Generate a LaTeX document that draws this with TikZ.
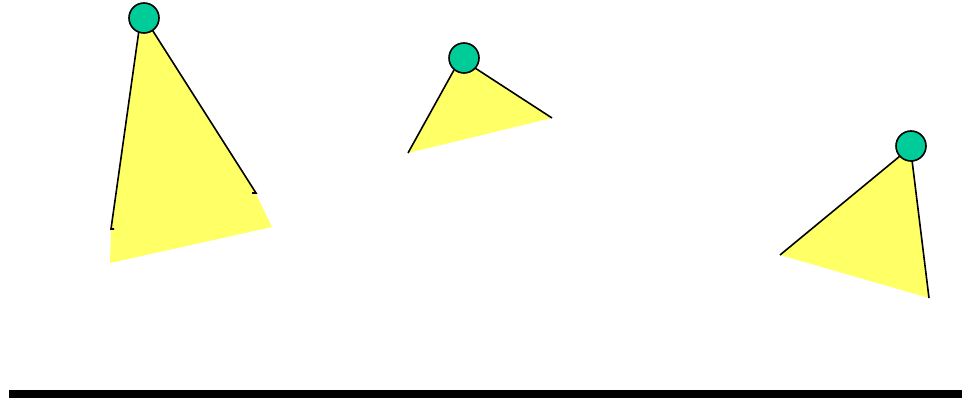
\documentclass[tikz,border=0pt]{standalone}
\definecolor{lampgreen}{HTML}{00CC99}
\definecolor{lightyellow}{HTML}{FFFF66}
\tikzset{
  beam/.style={fill=lightyellow, draw=none},
  edge/.style={draw=black, line width=1.6pt},
  lamp/.style={circle, draw=black, line width=1.6pt, fill=lampgreen, minimum size=30pt, inner sep=0pt}
}
\begin{document}
\begin{tikzpicture}[x=1pt,y=-1pt]
\useasboundingbox (0,0) rectangle (962,401);
% lamp 1
\fill[beam] (144,22) -- (139,30) -- (111,229) -- (110,263) -- (272,227) -- (257,196) -- (256,193) -- (151,28) -- cycle;
\draw[edge] (139,30) -- (111,229) -- (114,229);
\draw[edge] (151,28) -- (256,193) -- (252,193);
\node[lamp] (l1) at (144,18) {};
% lamp 2
\fill[beam] (463,62) -- (454,70) -- (408,153) -- (552,118) -- (475,68) -- cycle;
\draw[edge] (454,70) -- (408,153);
\draw[edge] (475,68) -- (552,118);
\node[lamp] (l2) at (464,58) {};
% lamp 3
\fill[beam] (910,150) -- (900,156) -- (780,255) -- (929,298) -- (912,160) -- cycle;
\draw[edge] (900,156) -- (780,255);
\draw[edge] (912,160) -- (929,298);
\node[lamp] (l3) at (911,146) {};
% ground
\draw[line width=8pt] (9,393.5) -- (962,393.5);
\end{tikzpicture}
\end{document}
